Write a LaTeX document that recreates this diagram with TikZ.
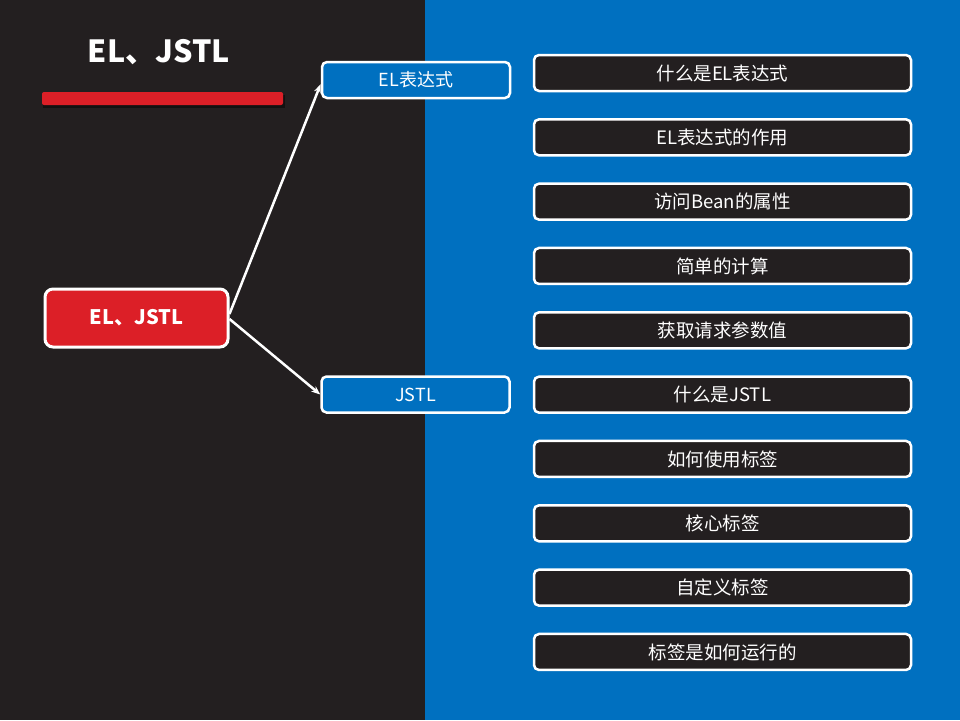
\documentclass[tikz,border=0pt]{standalone}
\usepackage{fontspec}
\setmainfont{Noto Sans CJK SC}
\usetikzlibrary{arrows.meta,shadows}
\definecolor{darkbg}{HTML}{231F20}
\definecolor{bluebg}{HTML}{0070C0}
\definecolor{redc}{HTML}{DC1F27}
\tikzset{
  bluebox/.style={draw=white,line width=2.5pt,fill=bluebg,rounded corners=5pt,minimum width=188pt,minimum height=36pt,text=white,font=\fontsize{18}{20}\selectfont,inner sep=0pt},
  darkbox/.style={draw=white,line width=2.5pt,fill=darkbg,rounded corners=5pt,minimum width=377pt,minimum height=36pt,text=white,font=\fontsize{18.5}{20}\selectfont,inner sep=0pt},
  mainbox/.style={draw=white,line width=3pt,fill=redc,rounded corners=8pt,minimum width=183pt,minimum height=58pt,text=white,font=\bfseries\fontsize{20}{22}\selectfont,inner sep=0pt},
  conn/.style={draw=white,line width=2.5pt,-{Stealth[length=9pt,width=7pt]}}
}
\begin{document}
\begin{tikzpicture}[x=1pt,y=-1pt]
\useasboundingbox (0,0) rectangle (960,720);
\fill[darkbg] (0,0) rectangle (425,720);
\fill[bluebg] (425,0) rectangle (960,720);
\node[text=white,font=\bfseries\fontsize{30.5}{34}\selectfont] (title) at (159,52) {EL、JSTL};
\fill[black,opacity=0.45] (43,95) rectangle (285,108);
\fill[redc,rounded corners=2pt] (42,92) rectangle (283,105);
\node[mainbox] (main) at (136.5,318) {EL、JSTL};
\node[bluebox] (el) at (416,80) {EL表达式};
\node[bluebox] (jstl) at (415.5,394.5) {JSTL};
\foreach \t [count=\i from 0] in {什么是EL表达式,EL表达式的作用,访问Bean的属性,简单的计算,获取请求参数值,什么是JSTL,如何使用标签,核心标签,自定义标签,标签是如何运行的}{
  \node[darkbox] (r\i) at (722.5,{73+64.33*\i}) {\t};
}
\draw[conn] ([yshift=4pt]main.east) -- ([yshift=-4pt]el.west);
\draw[conn] ([yshift=-1pt]main.east) -- (jstl.west);
\end{tikzpicture}
\end{document}
